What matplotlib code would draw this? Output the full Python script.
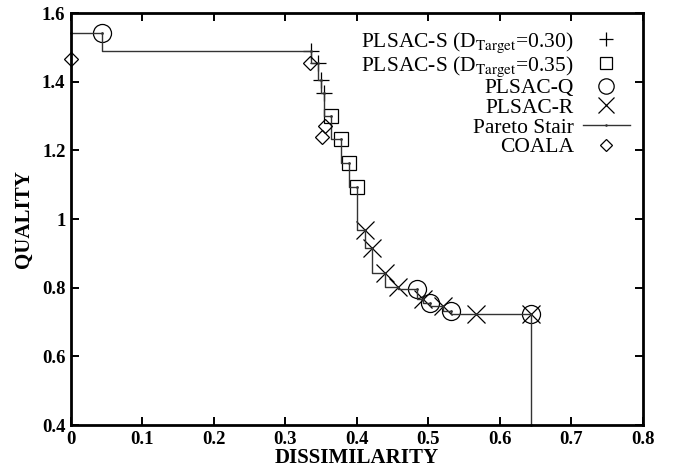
import matplotlib
matplotlib.use("Agg")
import matplotlib.pyplot as plt
from matplotlib.ticker import FuncFormatter

# values
plsac_s30_x = [0.336, 0.345, 0.350, 0.354]
plsac_s30_y = [1.490, 1.455, 1.405, 1.368]

plsac_s35_x = [0.363, 0.377, 0.389, 0.400]
plsac_s35_y = [1.300, 1.232, 1.163, 1.094]

plsac_q_x = [0.043, 0.484, 0.502, 0.531, 0.643]
plsac_q_y = [1.541, 0.795, 0.754, 0.732, 0.722]

plsac_r_x = [0.411, 0.421, 0.439, 0.458, 0.492, 0.520, 0.566, 0.643]
plsac_r_y = [0.968, 0.915, 0.842, 0.801, 0.766, 0.746, 0.723, 0.722]

coala_x = [0.0, 0.334, 0.355, 0.351]
coala_y = [1.466, 1.453, 1.271, 1.240]

# pareto stair vertices (start on the y axis, end on the x axis)
stair_x = [0.0, 0.043, 0.336, 0.345, 0.350, 0.354, 0.363, 0.377, 0.389, 0.400,
           0.411, 0.421, 0.439, 0.458, 0.484, 0.492, 0.502, 0.520, 0.531, 0.566,
           0.643, 0.643]
stair_y = [1.541, 1.541, 1.490, 1.455, 1.405, 1.368, 1.300, 1.232, 1.163, 1.094,
           0.968, 0.915, 0.842, 0.801, 0.795, 0.766, 0.754, 0.746, 0.732, 0.723,
           0.722, 0.4]

x_ticks = [0, 0.1, 0.2, 0.3, 0.4, 0.5, 0.6, 0.7, 0.8]
y_ticks = [0.4, 0.6, 0.8, 1.0, 1.2, 1.4, 1.6]

plt.rcParams['font.family'] = ['Liberation Serif', 'DejaVu Serif']
plt.rcParams['mathtext.fontset'] = 'stix'

fig = plt.figure(figsize=(6.73, 4.70), dpi=100)
ax = fig.add_axes([0.1055, 0.0957, 0.8499, 0.8766])

mk = dict(linestyle='none', color='black', markerfacecolor='none',
          markeredgewidth=0.9, clip_on=False)

h1, = ax.plot(plsac_s30_x, plsac_s30_y, marker='+', markersize=12, **mk)
h2, = ax.plot(plsac_s35_x, plsac_s35_y, marker='s', markersize=10.5, **mk)
h3, = ax.plot(plsac_q_x, plsac_q_y, marker='o', markersize=13, **mk)
h4, = ax.plot(plsac_r_x, plsac_r_y, marker='x', markersize=13, **mk)
h5, = ax.plot(stair_x, stair_y, drawstyle='steps-pre', color='#333333',
              linewidth=1.0, marker='.', markersize=2, clip_on=False)
h6, = ax.plot(coala_x, coala_y, marker='D', markersize=7.5, **mk)

ax.set_xlim(0, 0.8)
ax.set_ylim(0.4, 1.6)
ax.set_xticks(x_ticks)
ax.set_yticks(y_ticks)
fmt = FuncFormatter(lambda v, p: '%g' % round(v, 2))
ax.xaxis.set_major_formatter(fmt)
ax.yaxis.set_major_formatter(fmt)

ax.tick_params(direction='in', length=6, width=1.4, top=True, right=True,
               labelsize=13.5, pad=4)
for lab in ax.get_xticklabels() + ax.get_yticklabels():
    lab.set_fontweight('bold')
for sp in ax.spines.values():
    sp.set_linewidth(2)

ax.set_xlabel('DISSIMILARITY', fontsize=15, fontweight='bold', labelpad=0)
ax.set_ylabel('QUALITY', fontsize=15, fontweight='bold', labelpad=6)

labels = [r'PLSAC-S (D$_{\mathrm{Target}}$=0.30)',
          r'PLSAC-S (D$_{\mathrm{Target}}$=0.35)',
          'PLSAC-Q', 'PLSAC-R', 'Pareto Stair', 'COALA']
leg = ax.legend([h1, h2, h3, h4, h5, h6], labels, loc='upper right',
                bbox_to_anchor=(1.0, 0.99), frameon=False, markerfirst=False,
                fontsize=15.5, handlelength=2.2, handletextpad=0.4,
                labelspacing=-0.02, borderaxespad=0.2, numpoints=1,
                markerscale=0.85)
for t in leg.get_texts():
    t.set_ha('right')
leg._legend_box.align = 'right'

fig.savefig('out.png', dpi=100)
